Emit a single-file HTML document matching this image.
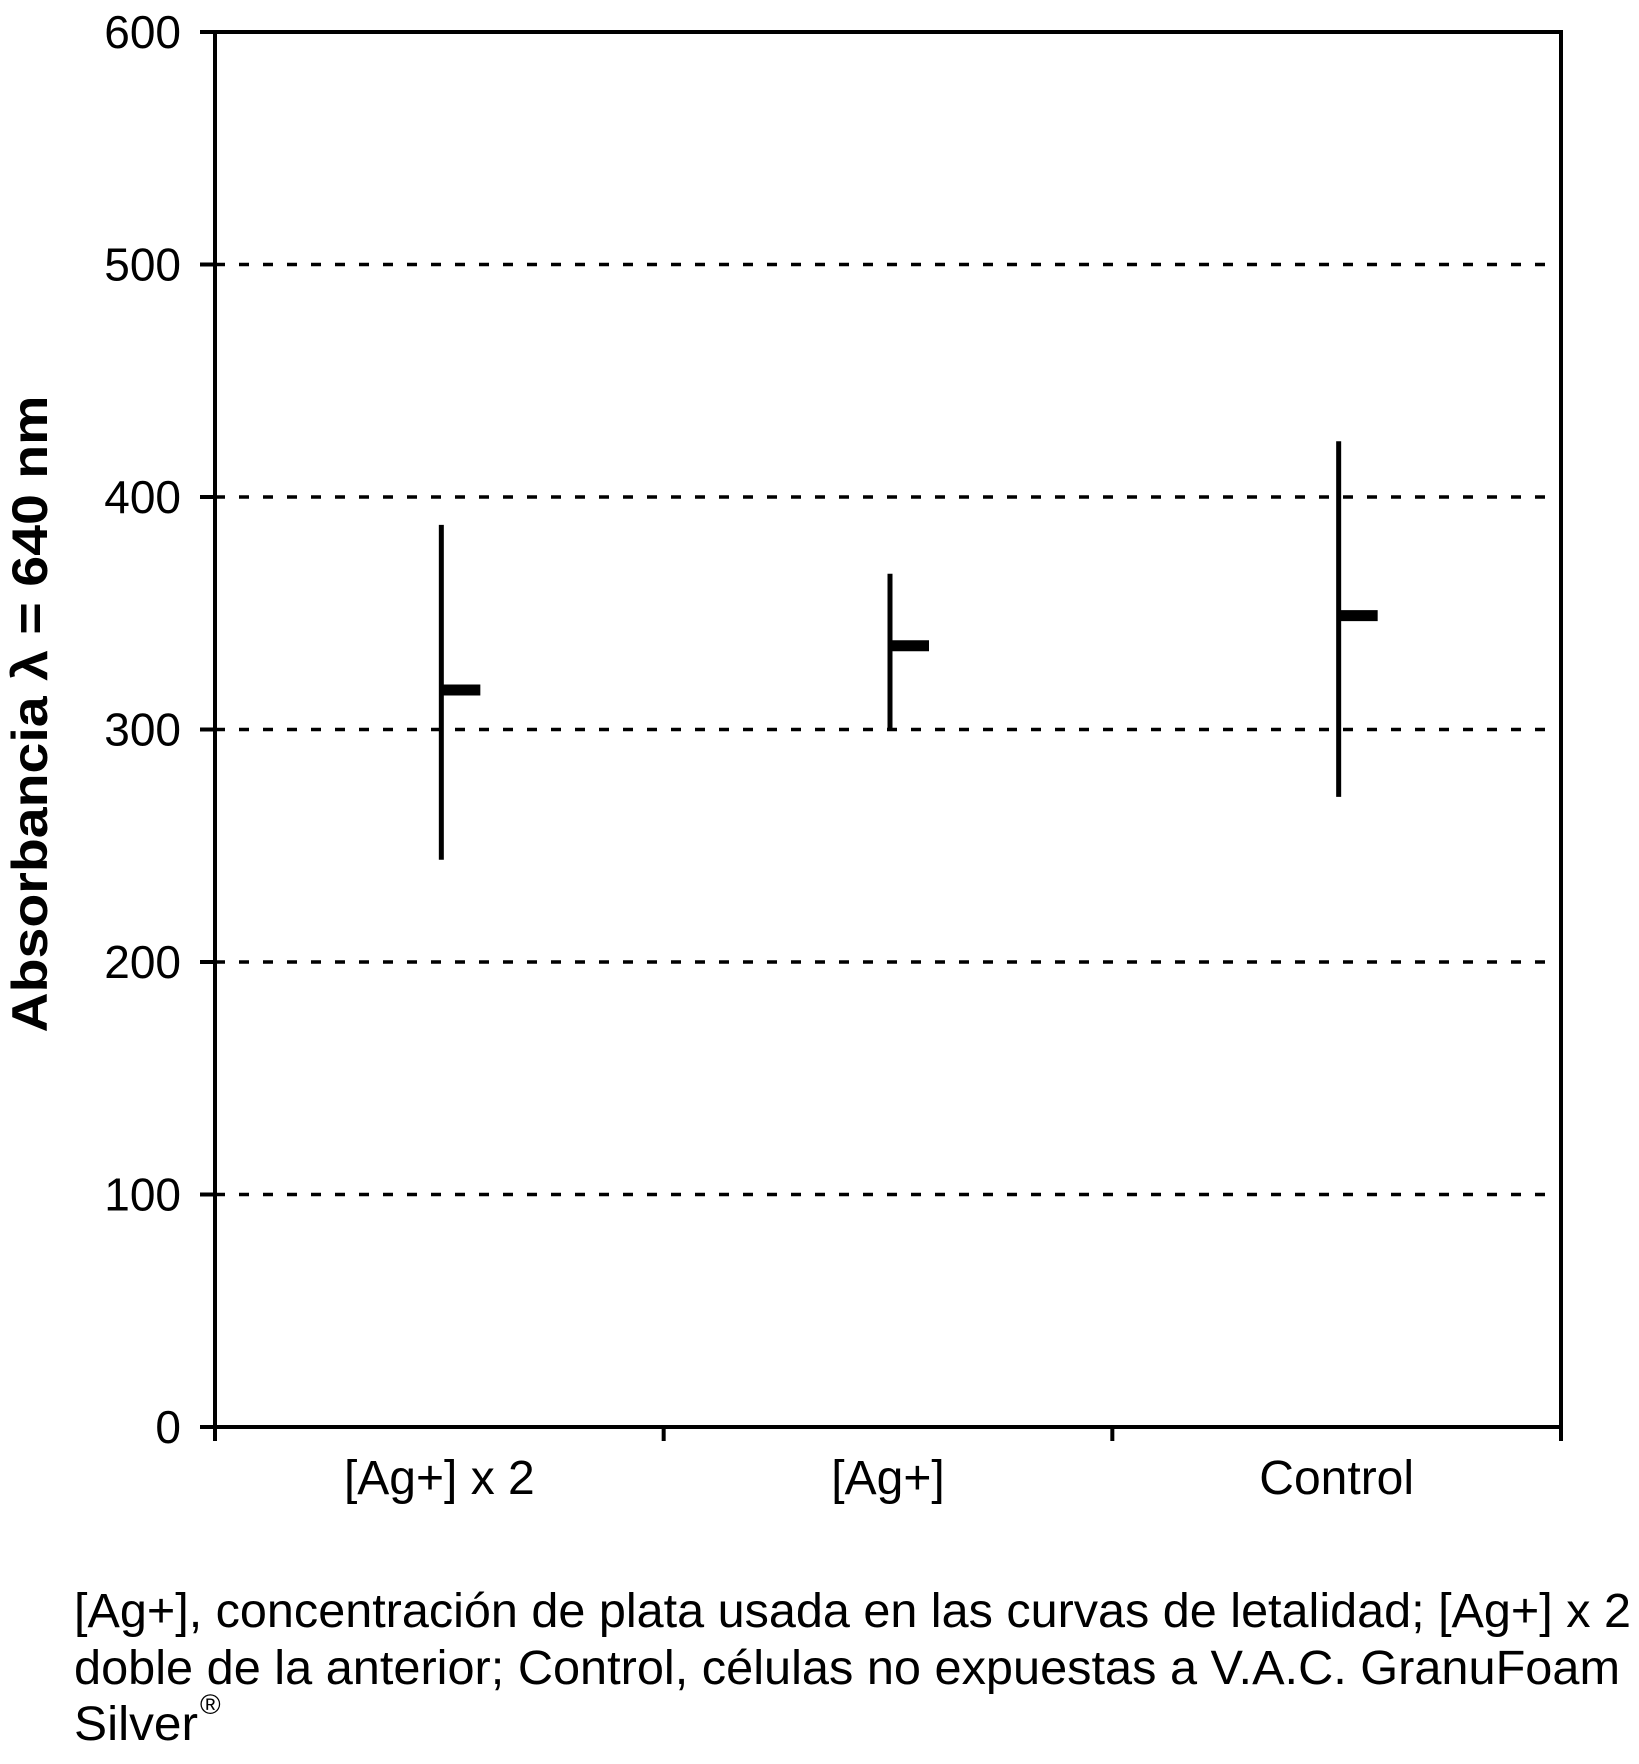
<!DOCTYPE html>
<html><head><meta charset="utf-8"><style>
html,body{margin:0;padding:0;background:#fff;}
svg{display:block;font-family:"Liberation Sans",Arial,sans-serif;}
</style></head><body>
<svg id="chart" width="1639" height="1764" viewBox="0 0 1639 1764" xmlns="http://www.w3.org/2000/svg">
<g id="grid"></g>
<g id="yaxis"></g>
<g id="xaxis"></g>
<g id="marks"></g>
<rect x="215" y="32" width="1346" height="1395" fill="none" stroke="#000" stroke-width="4"/>
<text transform="translate(47,714) rotate(-90)" text-anchor="middle" font-size="50" font-weight="bold" textLength="637" lengthAdjust="spacingAndGlyphs">Absorbancia λ = 640 nm</text>
<g font-size="48" fill="#000">
<text x="74" y="1627" textLength="1557" lengthAdjust="spacingAndGlyphs">[Ag+], concentración de plata usada en las curvas de letalidad; [Ag+] x 2</text>
<text x="74" y="1684" textLength="1546" lengthAdjust="spacingAndGlyphs">doble de la anterior; Control, células no expuestas a V.A.C. GranuFoam</text>
<text x="74" y="1740" textLength="124" lengthAdjust="spacingAndGlyphs">Silver</text>
<text x="200" y="1714" font-size="28">®</text>
</g>
</svg>
<script>
const categories = ["[Ag+] x 2", "[Ag+]", "Control"];
const meanValues = [317, 336, 349];
const highValues = [388, 367, 424];
const lowValues = [244, 300, 271];
const yTicks = [0, 100, 200, 300, 400, 500, 600];

const NS = "http://www.w3.org/2000/svg";
const X0 = 215, X1 = 1561, Y0 = 1427, Y1 = 32, YMAX = 600;
function yScale(v){ return Y0 - (v / YMAX) * (Y0 - Y1); }
function band(){ return (X1 - X0) / categories.length; }
function xScale(i){ return X0 + band() * (i + 0.5); }
function mk(tag, attrs, parent){
  const e = document.createElementNS(NS, tag);
  for (const k in attrs) e.setAttribute(k, attrs[k]);
  parent.appendChild(e);
  return e;
}
const grid = document.getElementById("grid");
const yaxis = document.getElementById("yaxis");
const xaxis = document.getElementById("xaxis");
const marks = document.getElementById("marks");

yTicks.forEach(function(t){
  const y = yScale(t);
  if (t > 0 && t < YMAX) {
    const g = mk("line", {x1: X0, x2: X1, y1: y, y2: y, stroke: "#000", "stroke-width": 3.5, "stroke-dasharray": "10 14"}, grid);
    
    
  }
  const tk = mk("line", {x1: 200, x2: X0, y1: y, y2: y, stroke: "#000", "stroke-width": 4}, yaxis);
  
  
  const lb = mk("text", {x: 181, y: y + 16, "text-anchor": "end", "font-size": 46}, yaxis);
  lb.textContent = t;
  
  
});

for (let i = 0; i <= categories.length; i++) {
  const x = X0 + band() * i;
  const tk = mk("line", {x1: x, x2: x, y1: Y0, y2: Y0 + 14, stroke: "#000", "stroke-width": 4}, xaxis);
  
  
}
categories.forEach(function(c, i){
  const lb = mk("text", {x: xScale(i), y: 1494, "text-anchor": "middle", "font-size": 48}, xaxis);
  lb.textContent = c;
  
  

  const x = xScale(i) + 2;
  const v = mk("line", {x1: x, x2: x, y1: yScale(highValues[i]), y2: yScale(lowValues[i]), stroke: "#000", "stroke-width": 5}, marks);
  
  
  const m = mk("line", {x1: x, x2: x + 39, y1: yScale(meanValues[i]), y2: yScale(meanValues[i]), stroke: "#000", "stroke-width": 11}, marks);
  
  
});
</script>
</body></html>
